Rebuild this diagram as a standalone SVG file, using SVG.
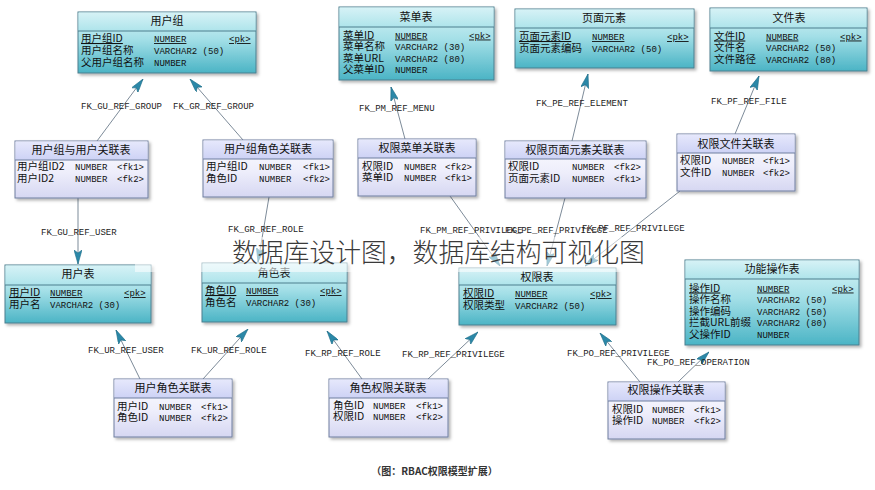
<svg xmlns="http://www.w3.org/2000/svg" width="875" height="490" viewBox="0 0 875 490">
<defs>
<linearGradient id="gTeal" x1="0" y1="0" x2="0" y2="1">
<stop offset="0" stop-color="#d9f4f7"/><stop offset="0.45" stop-color="#a3dfe7"/><stop offset="1" stop-color="#4bb4c5"/>
</linearGradient>
<linearGradient id="gTealHd" x1="0" y1="0" x2="0" y2="1">
<stop offset="0" stop-color="#d6f2f6"/><stop offset="1" stop-color="#aee4eb"/>
</linearGradient>
<linearGradient id="gLav" x1="0" y1="0" x2="0" y2="1">
<stop offset="0" stop-color="#fcfcff"/><stop offset="0.55" stop-color="#eeeefb"/><stop offset="1" stop-color="#d6d7f2"/>
</linearGradient>
<linearGradient id="gLavHd" x1="0" y1="0" x2="0" y2="1">
<stop offset="0" stop-color="#e6e8fc"/><stop offset="1" stop-color="#cdd2f5"/>
</linearGradient>
<filter id="sh" x="-10%" y="-10%" width="125%" height="130%">
<feDropShadow dx="2" dy="2" stdDeviation="1.5" flood-color="#000" flood-opacity="0.3"/>
</filter>
<marker id="ah" viewBox="0 0 14 8" refX="14" refY="4" markerWidth="14" markerHeight="8" markerUnits="userSpaceOnUse" orient="auto">
<path d="M0,0 L14,4 L0,8 L3,4 Z" fill="#2b88a8" stroke="#1d6d88" stroke-width="0.6"/>
</marker>
</defs>
<style>
.bx{stroke:#4d7f8e;stroke-width:1;filter:url(#sh)}
.bl{stroke:#6f7f9f;stroke-width:1;filter:url(#sh)}
.teal{fill:url(#gTeal)}
.lav{fill:url(#gLav)}
.hdT{fill:url(#gTealHd);stroke:none}
.hdL{fill:url(#gLavHd);stroke:none}
.dv{stroke:#4d7f8e;stroke-width:1}
.dl{stroke:#6f7f9f;stroke-width:1}
.t{font-family:"Noto Sans CJK SC","Liberation Sans",sans-serif;font-size:11px;fill:#111;text-anchor:middle}
.c{font-family:"Noto Sans CJK SC","Liberation Sans",sans-serif;font-size:10.5px;fill:#111}
.m{font-family:"Liberation Mono",monospace;font-size:9px;fill:#111}
.u{text-decoration:underline}
.lbl{font-family:"Liberation Mono",monospace;font-size:9px;fill:#222}
.cn{stroke:#7d8b99;stroke-width:1;fill:none;marker-end:url(#ah)}
.wm{font-family:"Noto Sans CJK SC",sans-serif;font-size:25.8px;font-weight:300;fill:#3a3a3a}
.cap{font-family:"Noto Sans CJK SC","Liberation Sans",sans-serif;font-size:10px;font-weight:bold;fill:#333;text-anchor:middle}
</style>
<rect width="875" height="490" fill="#fff"/>

<g id="connectors">
<line class="cn" x1="97" y1="141" x2="143" y2="79"/>
<line class="cn" x1="243" y1="140" x2="190" y2="79"/>
<line class="cn" x1="78" y1="198" x2="78" y2="264"/>
<line class="cn" x1="269" y1="197" x2="258" y2="262"/>
<line class="cn" x1="405" y1="139" x2="391" y2="87"/>
<line class="cn" x1="572" y1="141" x2="588" y2="74"/>
<line class="cn" x1="735" y1="134" x2="759" y2="76"/>
<line class="cn" x1="450" y1="196" x2="500" y2="266"/>
<line class="cn" x1="565" y1="198" x2="547" y2="266"/>
<line class="cn" x1="680" y1="191" x2="585" y2="266"/>
<line class="cn" x1="140" y1="379" x2="116" y2="330"/>
<line class="cn" x1="203" y1="379" x2="248" y2="329"/>
<line class="cn" x1="362" y1="379" x2="327" y2="331"/>
<line class="cn" x1="428" y1="379" x2="478" y2="332"/>
<line class="cn" x1="640" y1="382" x2="600" y2="333"/>
<line class="cn" x1="678" y1="382" x2="709" y2="352"/>
<g id="connector-labels">
<text class="lbl" x="81" y="109">FK_GU_REF_GROUP</text>
<text class="lbl" x="173" y="109">FK_GR_REF_GROUP</text>
<text class="lbl" x="41" y="235">FK_GU_REF_USER</text>
<text class="lbl" x="228" y="232">FK_GR_REF_ROLE</text>
<text class="lbl" x="359" y="111">FK_PM_REF_MENU</text>
<text class="lbl" x="536" y="106">FK_PE_REF_ELEMENT</text>
<text class="lbl" x="711" y="104">FK_PF_REF_FILE</text>
<text class="lbl" x="420" y="233">FK_PM_REF_PRIVILEGE</text>
<text class="lbl" x="505" y="233">FK_PE_REF_PRIVILEGE</text>
<text class="lbl" x="582" y="231">FK_PF_REF_PRIVILEGE</text>
<text class="lbl" x="88" y="353">FK_UR_REF_USER</text>
<text class="lbl" x="191" y="353">FK_UR_REF_ROLE</text>
<text class="lbl" x="305" y="356">FK_RP_REF_ROLE</text>
<text class="lbl" x="402" y="357">FK_RP_REF_PRIVILEGE</text>
<text class="lbl" x="567" y="356">FK_PO_REF_PRIVILEGE</text>
<text class="lbl" x="647" y="365">FK_PO_REF_OPERATION</text>
</g>
</g>

<g id="usergroup">
<rect class="bx teal" x="78" y="12" width="178" height="61"/>
<rect class="hdT" x="78.5" y="12.5" width="177" height="18.5"/>
<line class="dv" x1="78" y1="31" x2="256" y2="31"/>
<text class="t" x="167" y="25">用户组</text>
<text class="c u" x="81" y="42">用户组ID</text><text class="m u" x="154" y="42">NUMBER</text><text class="m u" x="229" y="42">&lt;pk&gt;</text>
<text class="c" x="81" y="54">用户组名称</text><text class="m" x="154" y="54">VARCHAR2 (50)</text>
<text class="c" x="81" y="65.5">父用户组名称</text><text class="m" x="154" y="65.5">NUMBER</text>
</g>

<g id="menu">
<rect class="bx teal" x="339" y="7" width="155" height="73"/>
<rect class="hdT" x="339.5" y="7.5" width="154" height="19.5"/>
<line class="dv" x1="339" y1="27" x2="494" y2="27"/>
<text class="t" x="416" y="21">菜单表</text>
<text class="c u" x="343" y="38.5">菜单ID</text><text class="m u" x="395" y="38.5">NUMBER</text><text class="m u" x="469" y="38.5">&lt;pk&gt;</text>
<text class="c" x="343" y="50">菜单名称</text><text class="m" x="395" y="50">VARCHAR2 (30)</text>
<text class="c" x="343" y="61.5">菜单URL</text><text class="m" x="395" y="61.5">VARCHAR2 (80)</text>
<text class="c" x="343" y="73">父菜单ID</text><text class="m" x="395" y="73">NUMBER</text>
</g>

<g id="pageelement">
<rect class="bx teal" x="515" y="9" width="179" height="59"/>
<rect class="hdT" x="515.5" y="9.5" width="178" height="18.5"/>
<line class="dv" x1="515" y1="28" x2="694" y2="28"/>
<text class="t" x="604" y="22">页面元素</text>
<text class="c u" x="519" y="40">页面元素ID</text><text class="m u" x="592" y="40">NUMBER</text><text class="m u" x="667" y="40">&lt;pk&gt;</text>
<text class="c" x="519" y="51.5">页面元素编码</text><text class="m" x="592" y="51.5">VARCHAR2 (50)</text>
</g>

<g id="file">
<rect class="bx teal" x="710" y="8" width="157" height="63"/>
<rect class="hdT" x="710.5" y="8.5" width="156" height="19.5"/>
<line class="dv" x1="710" y1="28" x2="867" y2="28"/>
<text class="t" x="789" y="22">文件表</text>
<text class="c u" x="714" y="39.5">文件ID</text><text class="m u" x="766" y="39.5">NUMBER</text><text class="m u" x="840" y="39.5">&lt;pk&gt;</text>
<text class="c" x="714" y="51">文件名</text><text class="m" x="766" y="51">VARCHAR2 (50)</text>
<text class="c" x="714" y="62.5">文件路径</text><text class="m" x="766" y="62.5">VARCHAR2 (80)</text>
</g>

<g id="usergroup-user">
<rect class="bl lav" x="15" y="141" width="133" height="57"/>
<rect class="hdL" x="15.5" y="141.5" width="132" height="18.5"/>
<line class="dl" x1="15" y1="160" x2="148" y2="160"/>
<text class="t" x="81" y="154">用户组与用户关联表</text>
<text class="c" x="17" y="170">用户组ID2</text><text class="m" x="75" y="170">NUMBER</text><text class="m" x="117" y="170">&lt;fk1&gt;</text>
<text class="c" x="17" y="182">用户ID2</text><text class="m" x="75" y="182">NUMBER</text><text class="m" x="117" y="182">&lt;fk2&gt;</text>
</g>

<g id="usergroup-role">
<rect class="bl lav" x="203" y="140" width="130" height="57"/>
<rect class="hdL" x="203.5" y="140.5" width="129" height="18.5"/>
<line class="dl" x1="203" y1="159" x2="333" y2="159"/>
<text class="t" x="268" y="152.5">用户组角色关联表</text>
<text class="c" x="206" y="169.5">用户组ID</text><text class="m" x="259" y="169.5">NUMBER</text><text class="m" x="303" y="169.5">&lt;fk1&gt;</text>
<text class="c" x="206" y="181.5">角色ID</text><text class="m" x="259" y="181.5">NUMBER</text><text class="m" x="303" y="181.5">&lt;fk2&gt;</text>
</g>

<g id="privilege-menu">
<rect class="bl lav" x="358" y="139" width="118" height="57"/>
<rect class="hdL" x="358.5" y="139.5" width="117" height="18.5"/>
<line class="dl" x1="358" y1="158" x2="476" y2="158"/>
<text class="t" x="417" y="151.5">权限菜单关联表</text>
<text class="c" x="362" y="169.5">权限ID</text><text class="m" x="404" y="169.5">NUMBER</text><text class="m" x="445" y="169.5">&lt;fk2&gt;</text>
<text class="c" x="362" y="181">菜单ID</text><text class="m" x="404" y="181">NUMBER</text><text class="m" x="445" y="181">&lt;fk1&gt;</text>
</g>

<g id="privilege-element">
<rect class="bl lav" x="505" y="141" width="141" height="57"/>
<rect class="hdL" x="505.5" y="141.5" width="140" height="17.5"/>
<line class="dl" x1="505" y1="159" x2="646" y2="159"/>
<text class="t" x="575" y="154">权限页面元素关联表</text>
<text class="c" x="508" y="169.5">权限ID</text><text class="m" x="572" y="169.5">NUMBER</text><text class="m" x="614" y="169.5">&lt;fk2&gt;</text>
<text class="c" x="508" y="181.5">页面元素ID</text><text class="m" x="572" y="181.5">NUMBER</text><text class="m" x="614" y="181.5">&lt;fk1&gt;</text>
</g>

<g id="privilege-file">
<rect class="bl lav" x="677" y="134" width="118" height="57"/>
<rect class="hdL" x="677.5" y="134.5" width="117" height="18.5"/>
<line class="dl" x1="677" y1="153" x2="795" y2="153"/>
<text class="t" x="736" y="147.5">权限文件关联表</text>
<text class="c" x="680" y="164">权限ID</text><text class="m" x="722" y="164">NUMBER</text><text class="m" x="763" y="164">&lt;fk1&gt;</text>
<text class="c" x="680" y="176">文件ID</text><text class="m" x="722" y="176">NUMBER</text><text class="m" x="763" y="176">&lt;fk2&gt;</text>
</g>

<g id="user">
<rect class="bx teal" x="5" y="265" width="146" height="58"/>
<rect class="hdT" x="5.5" y="265.5" width="145" height="19.5"/>
<line class="dv" x1="5" y1="285" x2="151" y2="285"/>
<text class="t" x="78" y="277.5">用户表</text>
<text class="c u" x="9" y="296">用户ID</text><text class="m u" x="50" y="296">NUMBER</text><text class="m u" x="124" y="296">&lt;pk&gt;</text>
<text class="c" x="9" y="307.5">用户名</text><text class="m" x="50" y="307.5">VARCHAR2 (30)</text>
</g>

<g id="role">
<rect class="bx teal" x="202" y="263" width="145" height="59"/>
<rect class="hdT" x="202.5" y="263.5" width="144" height="19.5"/>
<line class="dv" x1="202" y1="283" x2="347" y2="283"/>
<text class="t" x="274" y="277">角色表</text>
<text class="c u" x="205" y="294">角色ID</text><text class="m u" x="246" y="294">NUMBER</text><text class="m u" x="320" y="294">&lt;pk&gt;</text>
<text class="c" x="205" y="305.5">角色名</text><text class="m" x="246" y="305.5">VARCHAR2 (30)</text>
</g>

<g id="privilege">
<rect class="bx teal" x="459" y="268" width="157" height="57"/>
<rect class="hdT" x="459.5" y="268.5" width="156" height="16.5"/>
<line class="dv" x1="459" y1="285" x2="616" y2="285"/>
<text class="t" x="537" y="280.5">权限表</text>
<text class="c u" x="463" y="297">权限ID</text><text class="m u" x="515" y="297">NUMBER</text><text class="m u" x="590" y="297">&lt;pk&gt;</text>
<text class="c" x="463" y="308.5">权限类型</text><text class="m" x="515" y="308.5">VARCHAR2 (50)</text>
</g>

<g id="operation">
<rect class="bx teal" x="685" y="260" width="174" height="85"/>
<rect class="hdT" x="685.5" y="260.5" width="173" height="18.5"/>
<line class="dv" x1="685" y1="279" x2="859" y2="279"/>
<text class="t" x="772" y="273">功能操作表</text>
<text class="c u" x="689" y="291.5">操作ID</text><text class="m u" x="757" y="291.5">NUMBER</text><text class="m u" x="832" y="291.5">&lt;pk&gt;</text>
<text class="c" x="689" y="303">操作名称</text><text class="m" x="757" y="303">VARCHAR2 (50)</text>
<text class="c" x="689" y="314.5">操作编码</text><text class="m" x="757" y="314.5">VARCHAR2 (50)</text>
<text class="c" x="689" y="326">拦截URL前缀</text><text class="m" x="757" y="326">VARCHAR2 (80)</text>
<text class="c" x="689" y="337.5">父操作ID</text><text class="m" x="757" y="337.5">NUMBER</text>
</g>

<g id="user-role">
<rect class="bl lav" x="114" y="379" width="118" height="58"/>
<rect class="hdL" x="114.5" y="379.5" width="117" height="18.5"/>
<line class="dl" x1="114" y1="398" x2="232" y2="398"/>
<text class="t" x="173" y="392">用户角色关联表</text>
<text class="c" x="117" y="409.5">用户ID</text><text class="m" x="159" y="409.5">NUMBER</text><text class="m" x="201" y="409.5">&lt;fk1&gt;</text>
<text class="c" x="117" y="421">角色ID</text><text class="m" x="159" y="421">NUMBER</text><text class="m" x="201" y="421">&lt;fk2&gt;</text>
</g>

<g id="role-privilege">
<rect class="bl lav" x="329" y="379" width="119" height="58"/>
<rect class="hdL" x="329.5" y="379.5" width="118" height="18.5"/>
<line class="dl" x1="329" y1="398" x2="448" y2="398"/>
<text class="t" x="388" y="392">角色权限关联表</text>
<text class="c" x="333" y="408.5">角色ID</text><text class="m" x="373" y="408.5">NUMBER</text><text class="m" x="416" y="408.5">&lt;fk1&gt;</text>
<text class="c" x="333" y="420">权限ID</text><text class="m" x="373" y="420">NUMBER</text><text class="m" x="416" y="420">&lt;fk2&gt;</text>
</g>

<g id="privilege-operation">
<rect class="bl lav" x="608" y="382" width="117" height="57"/>
<rect class="hdL" x="608.5" y="382.5" width="116" height="18.5"/>
<line class="dl" x1="608" y1="401" x2="725" y2="401"/>
<text class="t" x="666" y="394">权限操作关联表</text>
<text class="c" x="612" y="412.5">权限ID</text><text class="m" x="652" y="412.5">NUMBER</text><text class="m" x="694" y="412.5">&lt;fk1&gt;</text>
<text class="c" x="612" y="424">操作ID</text><text class="m" x="652" y="424">NUMBER</text><text class="m" x="694" y="424">&lt;fk2&gt;</text>
</g>

<g id="watermark">
<rect x="135" y="237" width="525" height="35" fill="#fff" fill-opacity="0.55"/>
<text class="wm" x="232" y="261.5">数据库设计图，数据库结构可视化图</text>
</g>

<text id="caption" class="cap" x="434.5" y="475">（图：RBAC权限模型扩展）</text>
</svg>
